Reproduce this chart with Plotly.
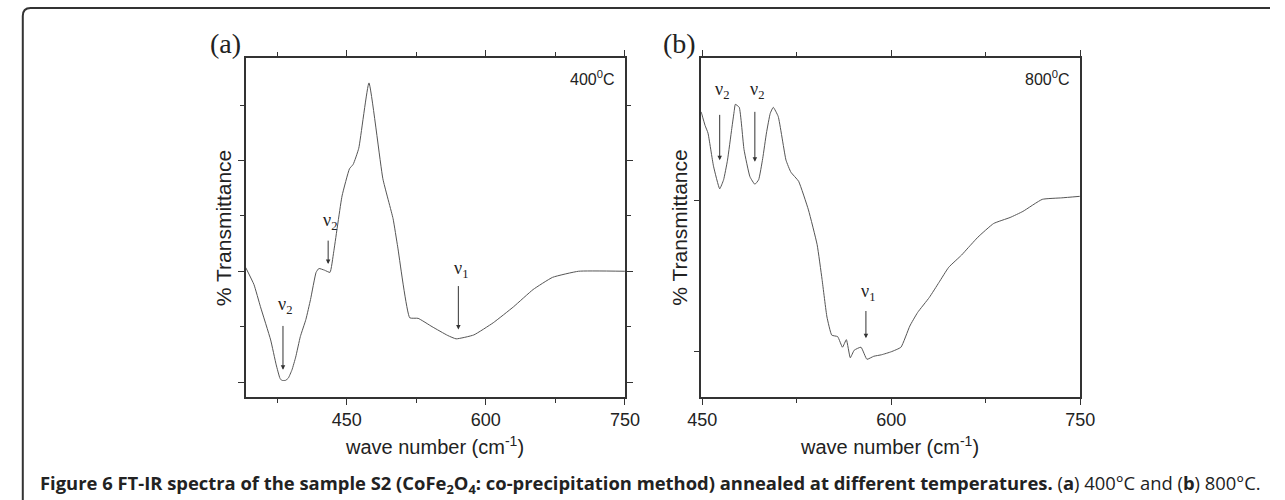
import plotly.graph_objects as go

# panel (a) 400 C spectrum
wave_a = [341, 350, 357, 368, 374, 378, 380, 384, 387, 391, 395, 400, 406, 411, 417, 420, 426, 432,
          436, 445, 453, 457, 463, 474, 489, 500, 505, 518, 527, 542, 559, 568, 587, 608, 630,
          651, 672, 700, 750]
trans_a = [30.7, 27.6, 23.6, 17.6, 13.1, 10.7, 10.3, 10.3, 10.7, 12.2, 14.5, 18.2, 21.3, 24.9,
           29.8, 30.5, 30.2, 29.8, 33.5, 43.6, 48.5, 49.3, 52.2, 64.0, 46.7, 39.5, 34.4, 21.6,
           21.5, 20.0, 18.4, 17.8, 18.5, 20.7, 23.6, 26.7, 28.9, 30.0, 30.0]

# panel (b) 800 C spectrum
wave_b = [449.2, 452.3, 454.6, 459.0, 463.9, 467.0, 470.1, 473.5, 475.5, 476.3, 479.4, 483.2,
          487.9, 491.8, 494.8, 498.0, 501.0, 504.0, 506.4, 510.3, 516.5, 520.4, 526.5, 534.3,
          541.2, 545.1, 549.0, 552.8, 557.5, 561.3, 564.4, 567.5, 570.6, 576.0, 580.7, 586.1,
          592.3, 600.0, 607.7, 614.7, 620.9, 630.2, 637.9, 645.6, 655.7, 661.1, 668.8, 681.2,
          694.3, 704.4, 719.8, 735.3, 749.5]
trans_b = [25.9, 25.0, 24.5, 22.3, 20.8, 21.4, 22.7, 24.8, 26.0, 26.4, 26.2, 23.4,
           21.6, 21.1, 21.4, 22.8, 24.5, 25.8, 26.2, 25.6, 22.7, 21.9, 21.3, 19.4,
           17.1, 14.8, 12.3, 11.1, 11.0, 10.3, 10.8, 9.6, 10.1, 10.3, 9.5, 9.7,
           9.8, 10.0, 10.3, 11.7, 12.6, 13.6, 14.6, 15.6, 16.4, 16.9, 17.6, 18.5,
           18.9, 19.3, 20.1, 20.2, 20.3]

x_ticks = [450, 600, 750]
x_labels = ["450", "600", "750"]

AX = "#333333"
LINE = "#555555"
TXT = "#222222"
SANS = "Liberation Sans, Arial, sans-serif"
SERIF = "Liberation Serif, Times New Roman, serif"

fig = go.Figure()
fig.add_trace(go.Scatter(x=wave_a, y=trans_a, mode="lines",
                         line=dict(color=LINE, width=1, shape="spline", smoothing=0.4),
                         xaxis="x", yaxis="y", showlegend=False, hoverinfo="skip"))
fig.add_trace(go.Scatter(x=wave_b, y=trans_b, mode="lines",
                         line=dict(color=LINE, width=1, shape="spline", smoothing=0.4),
                         xaxis="x2", yaxis="y2", showlegend=False, hoverinfo="skip"))

xcommon = dict(tickvals=x_ticks, ticktext=x_labels, ticks="outside", ticklen=6, tickwidth=1,
               tickcolor=AX, showline=True, linecolor=AX, linewidth=1.5, mirror="ticks",
               showgrid=False, zeroline=False, tickfont=dict(family=SANS, size=18, color=TXT),
               minor=dict(dtick=75, ticks="outside", ticklen=4, tickcolor=AX))

fig.update_layout(
    width=1285, height=500, autosize=False, margin=dict(l=0, r=0, t=0, b=0),
    paper_bgcolor="white", plot_bgcolor="white",
    xaxis=dict(domain=[0.1844, 0.4864], range=[341, 750], anchor="y", **xcommon),
    yaxis=dict(domain=[0.206, 0.884], range=[7.3, 68.5], anchor="x", tickvals=[10, 30, 50],
               showticklabels=False, ticks="outside", ticklen=6, tickcolor=AX, showline=True,
               linecolor=AX, linewidth=1.5, mirror="ticks", showgrid=False, zeroline=False,
               minor=dict(tickvals=[20, 40, 60], ticks="outside", ticklen=4, tickcolor=AX)),
    xaxis2=dict(domain=[0.5471, 0.8490], range=[449.2, 750], anchor="y2", **xcommon),
    yaxis2=dict(domain=[0.206, 0.884], range=[7.0, 29.47], anchor="x2", tickvals=[10, 20],
                showticklabels=False, ticks="outside", ticklen=5, tickcolor=AX, showline=True,
                linecolor=AX, linewidth=1.5, mirror=True, showgrid=False, zeroline=False),
)

ann = []
# panel letters, axis titles, temperatures
for xp, lab in [(0.168, "(a)"), (0.53, "(b)")]:
    ann.append(dict(xref="paper", yref="paper", x=xp, y=0.912, text=lab, showarrow=False,
                    xanchor="center", yanchor="middle",
                    font=dict(family=SERIF, size=28, color=TXT)))
for xp in [0.1673, 0.53]:
    ann.append(dict(xref="paper", yref="paper", x=xp, y=0.544, text="% Transmittance",
                    textangle=-90, showarrow=False, xanchor="center", yanchor="middle",
                    font=dict(family=SANS, size=21, color=TXT)))
for xp in [0.3346, 0.6973]:
    ann.append(dict(xref="paper", yref="paper", x=xp, y=0.11, text="wave number (cm<sup>-1</sup>)",
                    showarrow=False, xanchor="center", yanchor="middle",
                    font=dict(family=SANS, size=20, color=TXT)))
for ax_id, lab in [("", "400<sup>0</sup>C"), ("2", "800<sup>0</sup>C")]:
    ann.append(dict(xref="x" + ax_id + " domain", yref="y" + ax_id + " domain", x=0.978, y=0.94,
                    text=lab, showarrow=False, xanchor="right", yanchor="middle",
                    font=dict(family=SANS, size=16, color=TXT)))

# band markers: (axis, x, tail y, tip y, label y, label)
marks = [("", 381.3, 20.4, 12.2, 23.8, "2"), ("", 430.0, 35.8, 31.3, 39.0, "2"),
         ("", 570.4, 27.6, 19.5, 30.4, "1"), ("2", 463.9, 25.8, 22.7, 27.3, "2"),
         ("2", 491.8, 26.0, 22.6, 27.3, "2"), ("2", 579.9, 12.8, 10.9, 13.9, "1")]
for ax_id, xv, y0, y1, yl, sub in marks:
    ann.append(dict(xref="x" + ax_id, yref="y" + ax_id, x=xv, y=y1, ax=xv, ay=y0,
                    axref="x" + ax_id, ayref="y" + ax_id, text="", showarrow=True,
                    arrowhead=2, arrowsize=0.9, arrowwidth=1, arrowcolor="#333"))
    ann.append(dict(xref="x" + ax_id, yref="y" + ax_id, x=xv + (1.5 if ax_id else 2.5), y=yl,
                    text="ν<sub>" + sub + "</sub>", showarrow=False, xanchor="center",
                    yanchor="middle", font=dict(family=SERIF, size=18, color=TXT)))

# caption
ann.append(dict(xref="paper", yref="paper", x=0.0195, y=0.032, xanchor="left", yanchor="middle",
                showarrow=False,
                text="<b>Figure 6</b> <b>FT-IR spectra of the sample S2 (CoFe<sub>2</sub>O<sub>4</sub>: "
                     "co-precipitation method) annealed at different temperatures.</b> "
                     "(<b>a</b>) 400°C and (<b>b</b>) 800°C.",
                font=dict(family="Open Sans, sans-serif", size=18.4, color=TXT)))
fig.update_layout(annotations=ann)

# rounded frame at top-left
fig.add_shape(type="path", xref="paper", yref="paper",
              path="M 0.007,0 L 0.007,0.968 Q 0.007,0.984 0.0132,0.984 L 1,0.984",
              line=dict(color="#333", width=2))

fig.write_html("out.html", config={"responsive": False, "displayModeBar": False},
               post_script="document.body.style.margin='0';")
